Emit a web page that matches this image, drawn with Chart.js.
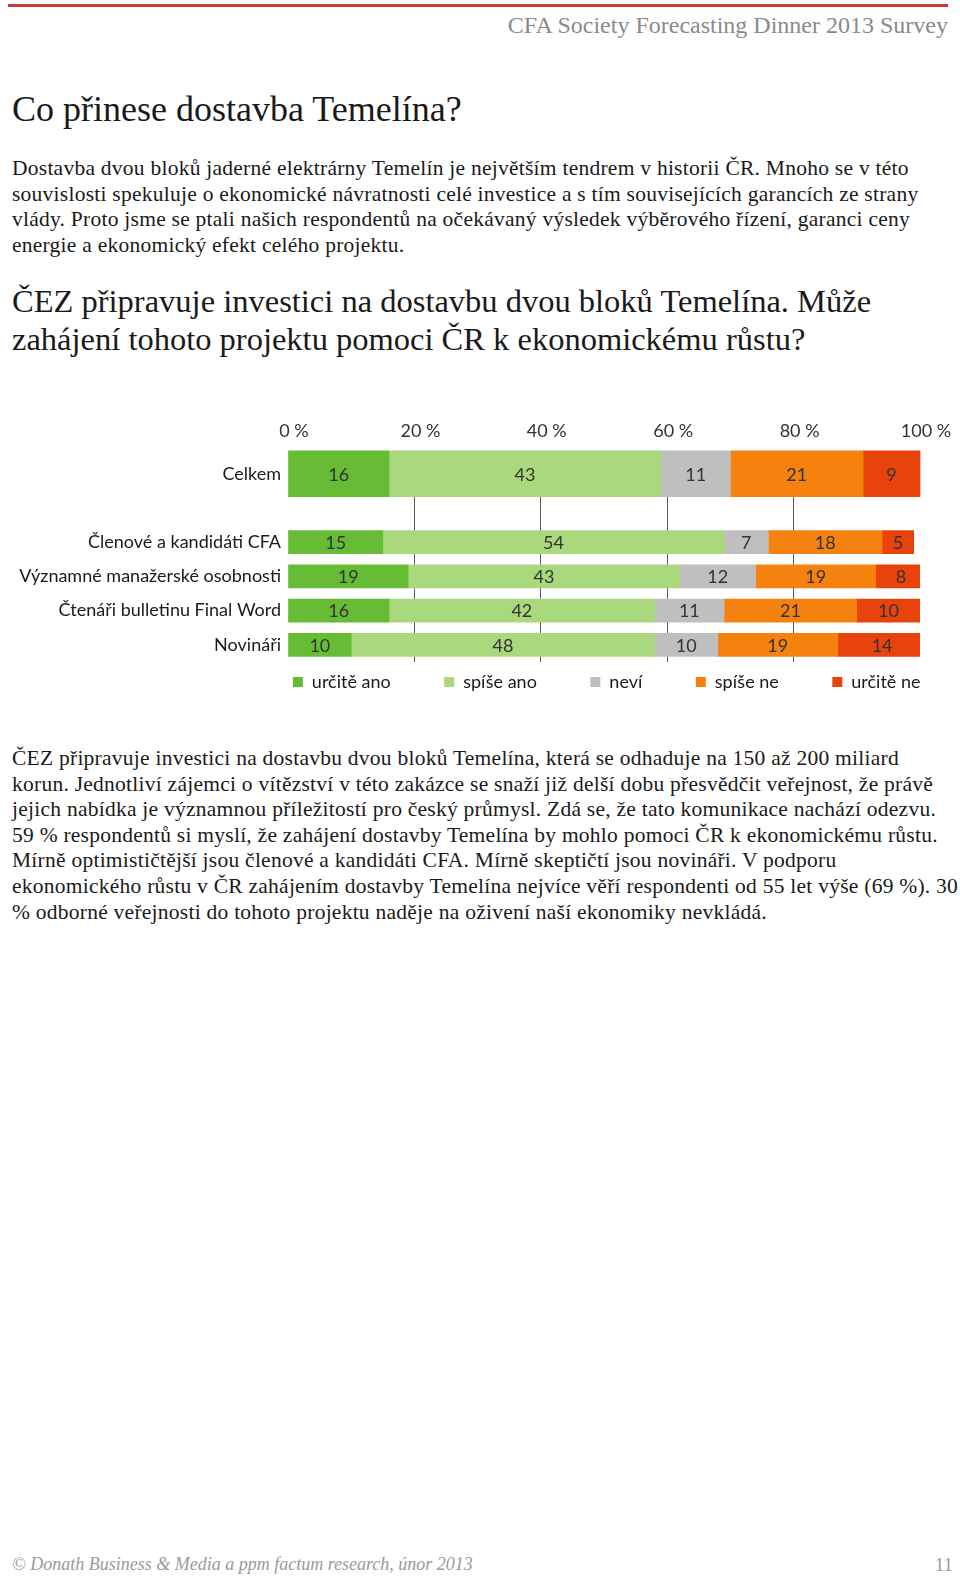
<!DOCTYPE html>
<html lang="cs">
<head>
<meta charset="utf-8">
<title>Co přinese dostavba Temelína?</title>
<script src="https://cdn.jsdelivr.net/npm/chart.js@4.4.1/dist/chart.umd.min.js"></script>
<style>
  html, body { margin: 0; padding: 0; background: #fff; }
  body { width: 960px; height: 1579px; position: relative; overflow: hidden; font-family: "Liberation Serif", serif; color: #1a1a1a; }
  .topline { position: absolute; left: 8px; top: 4px; width: 940px; height: 3px; background: #c9393a; }
  .hdr { position: absolute; right: 12px; top: 12px; font-size: 24px; color: #8a8a8a; white-space: nowrap; }
  .title { position: absolute; left: 12px; top: 88px; font-size: 36px; white-space: nowrap; }
  .para { position: absolute; left: 12px; font-size: 21.5px; letter-spacing: 0.25px; line-height: 25.6px; }
  .para div, .h2 div { white-space: nowrap; }
  .h2 { position: absolute; left: 12px; top: 282px; font-size: 32.5px; line-height: 38px; }
  .foot { position: absolute; left: 12px; top: 1554px; font-size: 18px; font-style: italic; color: #9a9a9a; white-space: nowrap; }
  .page { position: absolute; right: 7px; top: 1554px; font-size: 19px; color: #9a9a9a; }
  #chartBox { position: absolute; left: 0; top: 405.5px; width: 960px; height: 295px; }
</style>
</head>
<body>
<div class="topline"></div>
<div class="hdr">CFA Society Forecasting Dinner 2013 Survey</div>
<div class="title">Co přinese dostavba Temelína?</div>
<div class="para" style="top:156px">
  <div>Dostavba dvou bloků jaderné elektrárny Temelín je největším tendrem v historii ČR. Mnoho se v této</div>
  <div>souvislosti spekuluje o ekonomické návratnosti celé investice a s tím souvisejících garancích ze strany</div>
  <div>vlády. Proto jsme se ptali našich respondentů na očekávaný výsledek výběrového řízení, garanci ceny</div>
  <div>energie a ekonomický efekt celého projektu.</div>
</div>
<div class="h2">
  <div>ČEZ připravuje investici na dostavbu dvou bloků Temelína. Může</div>
  <div>zahájení tohoto projektu pomoci ČR k ekonomickému růstu?</div>
</div>

<div id="chartBox"><canvas id="myChart"></canvas></div>

<div class="para" style="top:746px">
  <div>ČEZ připravuje investici na dostavbu dvou bloků Temelína, která se odhaduje na 150 až 200 miliard</div>
  <div>korun. Jednotliví zájemci o vítězství v této zakázce se snaží již delší dobu přesvědčit veřejnost, že právě</div>
  <div>jejich nabídka je významnou příležitostí pro český průmysl. Zdá se, že tato komunikace nachází odezvu.</div>
  <div>59 % respondentů si myslí, že zahájení dostavby Temelína by mohlo pomoci ČR k ekonomickému růstu.</div>
  <div>Mírně optimističtější jsou členové a kandidáti CFA. Mírně skeptičtí jsou novináři. V podporu</div>
  <div>ekonomického růstu v ČR zahájením dostavby Temelína nejvíce věří respondenti od 55 let výše (69 %). 30</div>
  <div>% odborné veřejnosti do tohoto projektu naděje na oživení naší ekonomiky nevkládá.</div>
</div>

<div class="foot">© Donath Business &amp; Media a ppm factum research, únor 2013</div>
<div class="page">11</div>

<script>
// categories (empty slot = gap between Celkem and the groups)
let categories = ['Celkem', '', 'Členové a kandidáti CFA', 'Významné manažerské osobnosti', 'Čtenáři bulletinu Final Word', 'Novináři'];
let seriesNames = ['určitě ano', 'spíše ano', 'neví', 'spíše ne', 'určitě ne'];

let urciteAno = [16, null, 15, 19, 16, 10];
let spiseAno  = [43, null, 54, 43, 42, 48];
let nevi      = [11, null, 7, 12, 11, 10];
let spiseNe   = [21, null, 18, 19, 21, 19];
let urciteNe  = [9, null, 5, 8, 10, 14];

let xTickLabels = ['0 %', '20 %', '40 %', '60 %', '80 %', '100 %'];

let colors = ['#66bc34', '#a9d97c', '#bfbfbf', '#f5820f', '#e8430c'];

function buildDatasets() {
    let all = [urciteAno, spiseAno, nevi, spiseNe, urciteNe];
    let sets = [];
    // Celkem row is drawn thicker than the group rows
    for (let i = 0; i < all.length; i++) {
        sets.push({
            label: seriesNames[i],
            data: all[i].map((v, j) => j === 0 ? v : null),
            backgroundColor: colors[i],
            borderWidth: 0,
            barThickness: 46,
            clip: false
        });
    }
    for (let i = 0; i < all.length; i++) {
        sets.push({
            label: seriesNames[i],
            data: all[i].map((v, j) => j === 0 ? null : v),
            backgroundColor: colors[i],
            borderWidth: 0,
            barThickness: 23
        });
    }
    return sets;
}

// numbers in the middle of every segment
const valueLabels = {
    id: 'valueLabels',
    afterDraw(chart) {
        const ctx = chart.ctx;
        ctx.save();
        ctx.font = '18px Lato';
        ctx.fillStyle = '#333333';
        ctx.textAlign = 'center';
        ctx.textBaseline = 'middle';
        chart.data.datasets.forEach((ds, i) => {
            chart.getDatasetMeta(i).data.forEach((bar, j) => {
                let v = ds.data[j];
                if (v == null) return;
                let p = bar.getProps(['x', 'y', 'base'], true);
                ctx.fillText(v, (p.x + p.base) / 2, p.y + 1);
            });
        });
        ctx.restore();
    }
};

function drawChart() {
    const ctx = document.getElementById('myChart');
    new Chart(ctx, {
        type: 'bar',
        data: {
            labels: categories,
            datasets: buildDatasets()
        },
        plugins: [valueLabels],
        options: {
            indexAxis: 'y',
            responsive: true,
            maintainAspectRatio: false,
            animation: false,
            layout: {
                // negative right padding lets the legend row run out to the bar end
                padding: { left: 12, right: -14, top: 0, bottom: 0 }
            },
            scales: {
                x: {
                    position: 'top',
                    stacked: true,
                    min: 0,
                    max: 100,
                    z: 1,
                    border: { display: false },
                    grid: {
                        drawTicks: false,
                        color: (c) => (c.tick && (c.tick.value === 0 || c.tick.value === 100)) ? 'rgba(0,0,0,0)' : '#5a5a5a',
                        lineWidth: 1
                    },
                    ticks: {
                        stepSize: 20,
                        padding: 14.5,
                        labelOffset: 6,
                        color: '#333333',
                        font: { family: 'Lato', size: 18 },
                        callback: (v, i) => xTickLabels[i]
                    },
                    afterFit: (scale) => { scale.paddingRight = 40; }
                },
                y: {
                    stacked: true,
                    border: { display: false },
                    grid: { display: false, drawTicks: false },
                    ticks: {
                        autoSkip: false,
                        padding: 7,
                        color: '#1a1a1a',
                        font: { family: 'Lato', size: 18 }
                    },
                    afterFit: (scale) => { scale.width = 276; }
                }
            },
            plugins: {
                tooltip: { enabled: false },
                legend: {
                    position: 'bottom',
                    align: 'end',
                    // blank title with negative padding pulls the row up while
                    // labels.padding keeps the wide horizontal spacing
                    title: { display: true, text: ' ', font: { size: 10 }, padding: { top: -27.25, bottom: -27.25 } },
                    labels: {
                        boxWidth: 10,
                        boxHeight: 10,
                        padding: 53.5,
                        color: '#1a1a1a',
                        font: { family: 'Lato', size: 18 },
                        filter: (item) => item.datasetIndex < 5
                    }
                }
            }
        }
    });
}

drawChart();
</script>
</body>
</html>
